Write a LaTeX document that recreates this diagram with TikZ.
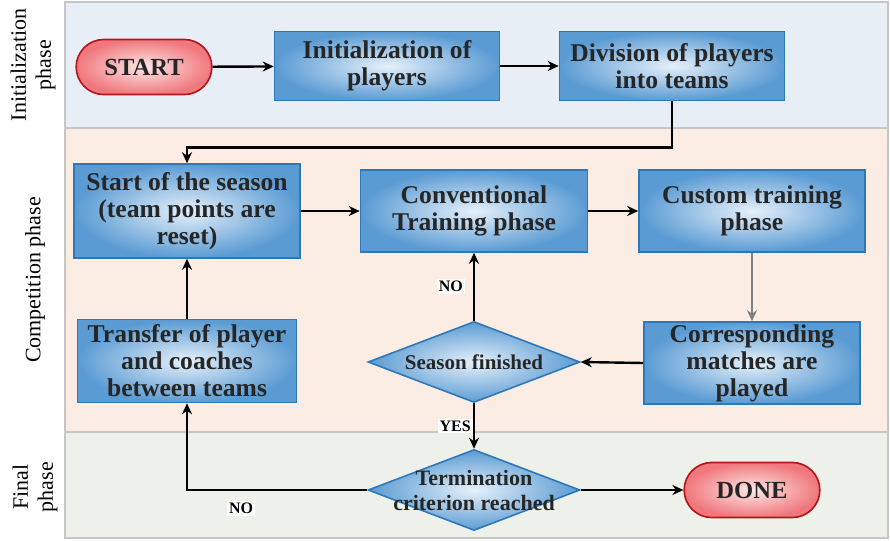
\documentclass[tikz,border=0pt]{standalone}
\usepackage{fontspec}
\setmainfont{Liberation Serif}
\usetikzlibrary{arrows.meta,shapes.geometric,shapes.misc}
\definecolor{bandinit}{HTML}{E7EEF6}
\definecolor{bandcomp}{HTML}{FBEDE4}
\definecolor{bandfinal}{HTML}{EEF1E9}
\definecolor{bandline}{HTML}{C6C6C6}
\definecolor{boxin}{HTML}{E6F0FA}
\definecolor{boxout}{HTML}{5A9BD3}
\definecolor{boxline}{HTML}{2F78B8}
\definecolor{pillin}{HTML}{FDE8E8}
\definecolor{pillout}{HTML}{F0777C}
\definecolor{pillline}{HTML}{B3141B}
\definecolor{txt}{HTML}{262626}

\tikzset{
  box/.style={rectangle, draw=boxline, line width=0.8pt, inner color=boxin, outer color=boxout,
    align=center, text=txt, inner sep=1pt, font=\bfseries\fontsize{12.8}{13.5}\selectfont},
  pill/.style={rounded rectangle, draw=pillline, line width=0.8pt, inner color=pillin, outer color=pillout,
    text=txt, font=\bfseries\fontsize{12.3}{14}\selectfont, minimum width=74.5pt, minimum height=27.5pt},
  dia/.style={diamond, draw=boxline, line width=0.8pt, inner color=boxin, outer color=boxout,
    inner sep=0pt, minimum width=106pt, minimum height=40.5pt},
  dialabel/.style={align=center, text=txt, inner sep=0pt},
  answer/.style={fill=white, inner sep=1pt, font=\bfseries\fontsize{8}{9}\selectfont},
  phase/.style={rotate=90, align=center, font=\fontsize{11}{12.5}\selectfont},
}

\begin{document}
\begin{tikzpicture}[x=0.5pt, y=-0.5pt, >={Stealth[length=5.5pt,width=5pt]}, line width=1.2pt]
    \useasboundingbox (0,0) rectangle (890,541);

    % phase bands
    \draw[bandline, line width=0.8pt, fill=bandinit] (65,2) rectangle (888,128);
    \draw[bandline, line width=0.8pt, fill=bandcomp] (65,128) rectangle (888,432);
    \draw[bandline, line width=0.8pt, fill=bandfinal] (65,432) rectangle (888,538);
    \draw node at (33,65)[name=initlbl,phase]{Initialization\\phase};
    \draw node at (35,280)[name=complbl,phase]{Competition phase};
    \draw node at (35,487)[name=finallbl,phase]{Final\\phase};

    \draw node at (144,67)[name=start,pill]{START};
    \draw node at (387,66)[name=init,box,minimum width=112.5pt,minimum height=34.5pt]{Initialization of\\players};
    \draw node at (672,66)[name=division,box,minimum width=112.5pt,minimum height=34.5pt]{Division of players\\into teams};
    \draw node at (187,211)[name=season,box,minimum width=113pt,minimum height=47pt]{Start of the season\\(team points are\\reset)};
    \draw node at (474,211)[name=conv,box,minimum width=113.5pt,minimum height=41pt]{Conventional\\Training phase};
    \draw node at (752,211)[name=custom,box,minimum width=113pt,minimum height=41pt]{Custom training\\phase};
    \draw node at (187,361)[name=transfer,box,minimum width=109.5pt,minimum height=41.5pt]{Transfer of player\\and coaches\\between teams};
    \draw node at (474,362)[name=seasonend,dia,
      label={[dialabel,font=\bfseries\fontsize{10.5}{12}\selectfont]center:Season finished}]{};
    \draw node at (752,363)[name=matches,box,minimum width=108pt,minimum height=41pt]{Corresponding\\matches are\\played};
    \draw node at (474,490)[name=term,dia,
      label={[dialabel,font=\bfseries\fontsize{11}{12.5}\selectfont]center:{Termination\\criterion reached}}]{};
    \draw node at (752,490)[name=done,pill]{DONE};

    \draw[->](start) -- (init);
    \draw[->](init) -- (division);
    \draw[->](division.south) -- ++(0,46) -| (season.north);
    \draw[->](season) -- (conv);
    \draw[->](conv) -- (custom);
    \draw[->,gray](custom) -- (matches);
    \draw[->](matches.west) -- (seasonend.east);
    \draw[->](seasonend) -- (conv) node[pos=0.5,left=4pt,answer]{NO};
    \draw[->](seasonend) -- (term) node[pos=0.5,left=0pt,answer]{YES};
    \draw[->](term.west) -| (transfer.south) node[pos=0.35,below=5pt,answer]{NO};
    \draw[->](term) -- (done);
    \draw[->](transfer) -- (season);
\end{tikzpicture}
\end{document}
